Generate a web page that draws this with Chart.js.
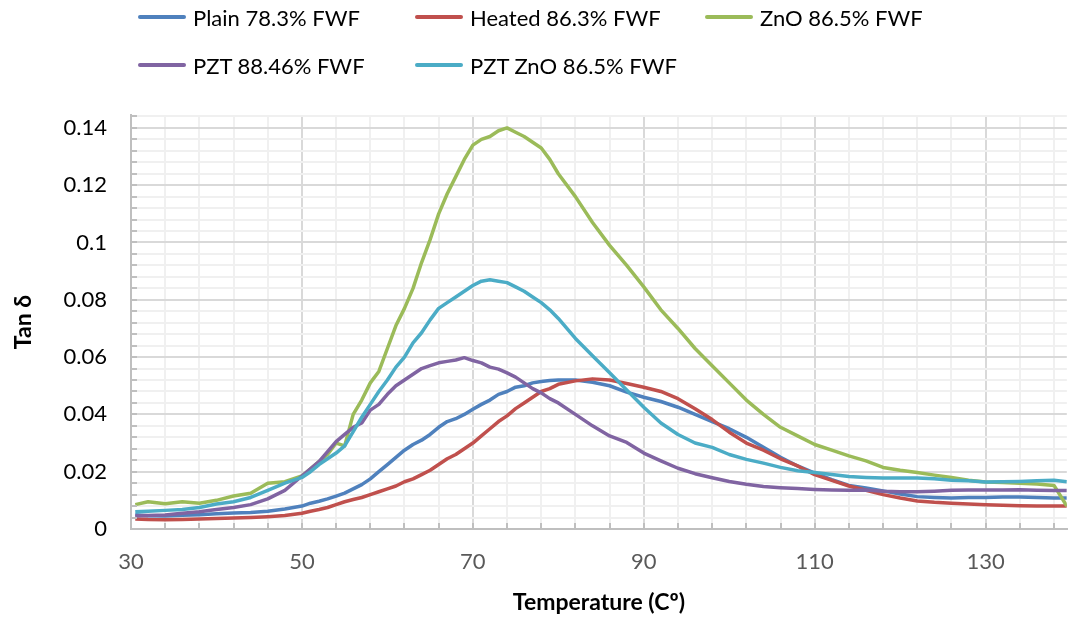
<!DOCTYPE html>
<html>
<head>
<meta charset="utf-8">
<script src="https://cdn.jsdelivr.net/npm/chart.js@4.4.1/dist/chart.umd.min.js"></script>
<style>
  html, body { margin: 0; padding: 0; background: #fff; }
  #wrap { position: relative; width: 1074px; height: 617px; }
  #legend {
    position: absolute; left: 138px; top: -7px;
    display: grid; grid-template-columns: 277px 290px auto; grid-auto-rows: 48px;
    font-family: Lato, sans-serif; font-size: 22px; color: #000;
  }
  #legend .item { display: flex; align-items: center; white-space: nowrap; }
  #legend .swatch { width: 48px; height: 4px; border-radius: 2px; margin-right: 7px; }
</style>
</head>
<body>
<div id="wrap">
  <canvas id="tanChart" width="1074" height="617"></canvas>
  <div id="legend"></div>
</div>
<script>
// temperature (C) of each reading
const temps = [
  30.5, 32, 34, 36, 38, 40, 42, 44, 46, 48,
  50, 51, 52, 53, 54, 55, 56, 57, 58, 59,
  60, 61, 62, 63, 64, 65, 66, 67, 68, 69,
  70, 71, 72, 73, 74, 75, 76, 77, 78, 79,
  80, 82, 84, 86, 88, 90, 92, 94, 96, 98,
  100, 102, 104, 106, 108, 110, 112, 114, 116, 118,
  120, 122, 124, 126, 128, 130, 132, 134, 136, 138,
  139.5
];

// tan delta per series
const plain = [
  0.0050, 0.0046, 0.0045, 0.0048, 0.0050, 0.0053, 0.0056, 0.0058, 0.0062, 0.0070,
  0.0080, 0.0090, 0.0097, 0.0105, 0.0115, 0.0125, 0.0140, 0.0155, 0.0175, 0.0200,
  0.0225, 0.0250, 0.0275, 0.0295, 0.0310, 0.0330, 0.0355, 0.0375, 0.0385, 0.0400,
  0.0418, 0.0435, 0.0450, 0.0470, 0.0480, 0.0495, 0.0500, 0.0510, 0.0515, 0.0518,
  0.0520, 0.0520, 0.0512, 0.0500, 0.0478, 0.0460, 0.0445, 0.0425, 0.0400, 0.0375,
  0.0350, 0.0320, 0.0285, 0.0250, 0.0220, 0.0195, 0.0172, 0.0152, 0.0143, 0.0133,
  0.0122, 0.0113, 0.0110, 0.0108, 0.0110, 0.0110, 0.0112, 0.0112, 0.0110, 0.0108,
  0.0108
];
const heated = [
  0.0035, 0.0033, 0.0032, 0.0033, 0.0035, 0.0037, 0.0038, 0.0040, 0.0043, 0.0047,
  0.0055, 0.0062, 0.0068, 0.0075, 0.0085, 0.0095, 0.0103, 0.0110, 0.0120, 0.0130,
  0.0140, 0.0150, 0.0165, 0.0175, 0.0190, 0.0205, 0.0225, 0.0245, 0.0260, 0.0280,
  0.0300, 0.0325, 0.0350, 0.0375, 0.0395, 0.0420, 0.0440, 0.0460, 0.0480, 0.0490,
  0.0505, 0.0517, 0.0524, 0.0520, 0.0508, 0.0495, 0.0480, 0.0455, 0.0420, 0.0382,
  0.0338, 0.0300, 0.0275, 0.0245, 0.0220, 0.0190, 0.0170, 0.0150, 0.0135, 0.0120,
  0.0108, 0.0098, 0.0093, 0.0090, 0.0087, 0.0085, 0.0083, 0.0081, 0.0080, 0.0080,
  0.0080
];
const zno = [
  0.0085, 0.0095, 0.0088, 0.0095, 0.0090, 0.0100, 0.0115, 0.0125, 0.0160, 0.0165,
  0.0185, 0.0210, 0.0235, 0.0260, 0.0300, 0.0290, 0.0400, 0.0450, 0.0510, 0.0550,
  0.0630, 0.0710, 0.0770, 0.0840, 0.0930, 0.1010, 0.1100, 0.1170, 0.1230, 0.1290,
  0.1340, 0.1360, 0.1370, 0.1390, 0.1400, 0.1385, 0.1370, 0.1350, 0.1330, 0.1290,
  0.1240, 0.1160, 0.1070, 0.0990, 0.0920, 0.0845, 0.0765, 0.0700, 0.0630, 0.0570,
  0.0510, 0.0450, 0.0400, 0.0355, 0.0325, 0.0295, 0.0275, 0.0255, 0.0238, 0.0215,
  0.0205, 0.0197, 0.0188, 0.0180, 0.0170, 0.0164, 0.0162, 0.0160, 0.0157, 0.0152,
  0.0080
];
const pzt = [
  0.0045, 0.0047, 0.0049, 0.0055, 0.0060, 0.0068, 0.0075, 0.0085, 0.0105, 0.0135,
  0.0185, 0.0210, 0.0235, 0.0270, 0.0305, 0.0330, 0.0355, 0.0370, 0.0415, 0.0435,
  0.0470, 0.0500, 0.0520, 0.0540, 0.0560, 0.0570, 0.0580, 0.0585, 0.0590, 0.0598,
  0.0588, 0.0580, 0.0565, 0.0558, 0.0545, 0.0530, 0.0510, 0.0490, 0.0475, 0.0455,
  0.0440, 0.0400, 0.0360, 0.0325, 0.0302, 0.0265, 0.0238, 0.0212, 0.0193, 0.0179,
  0.0166, 0.0156, 0.0148, 0.0144, 0.0141, 0.0138, 0.0136, 0.0135, 0.0136, 0.0132,
  0.0130, 0.0130, 0.0132, 0.0135, 0.0136, 0.0136, 0.0136, 0.0137, 0.0135, 0.0134,
  0.0134
];
const pztZno = [
  0.0060, 0.0062, 0.0065, 0.0068, 0.0075, 0.0087, 0.0095, 0.0110, 0.0135, 0.0160,
  0.0180, 0.0200, 0.0225, 0.0245, 0.0265, 0.0290, 0.0340, 0.0390, 0.0435, 0.0480,
  0.0520, 0.0565, 0.0600, 0.0650, 0.0685, 0.0730, 0.0770, 0.0790, 0.0810, 0.0830,
  0.0850, 0.0865, 0.0870, 0.0865, 0.0860, 0.0845, 0.0830, 0.0810, 0.0790, 0.0765,
  0.0735, 0.0665, 0.0605, 0.0545, 0.0485, 0.0425, 0.0370, 0.0330, 0.0300, 0.0285,
  0.0260, 0.0243, 0.0230, 0.0215, 0.0203, 0.0197, 0.0190, 0.0183, 0.0180, 0.0178,
  0.0178, 0.0178, 0.0175, 0.0170, 0.0168, 0.0164, 0.0165, 0.0166, 0.0168, 0.0170,
  0.0165
];

const seriesNames = ['Plain 78.3% FWF', 'Heated 86.3% FWF', 'ZnO 86.5% FWF', 'PZT 88.46% FWF', 'PZT ZnO 86.5% FWF'];
const seriesValues = [plain, heated, zno, pzt, pztZno];
const seriesColors = ['#4f81bd', '#c0504d', '#9bbb59', '#8064a2', '#4bacc6'];

const xTickLabels = [30, 50, 70, 90, 110, 130];
const yTickLabels = ['0', '0.02', '0.04', '0.06', '0.08', '0.1', '0.12', '0.14'];

// axis range and minor grid spacing
const X_MIN = 30, X_MAX = 139.5, X_MINOR = 4;
const Y_MIN = 0, Y_MAX = 0.1445, Y_MAJOR = 0.02, Y_MINOR = 0.004;

const FONT = 'Lato, sans-serif';
const MAJOR_GRID = '#d9d9d9';
const MINOR_GRID = '#f0f0f0';
const AXIS_LINE = '#bfbfbf';

function minorTicks(min, max, step) {
    const out = [];
    for (let v = min; v <= max + 1e-9; v += step) out.push({ value: Math.round(v * 10000) / 10000 });
    return out;
}
const isYMajor = v => Math.abs(v / Y_MAJOR - Math.round(v / Y_MAJOR)) < 1e-6;
const isXMajor = v => xTickLabels.includes(v);

// little inside tick marks like Excel's minor ticks
const minorTickMarks = {
    id: 'minorTickMarks',
    afterDatasetsDraw(chart) {
        const { ctx, chartArea, scales } = chart;
        ctx.save();
        ctx.strokeStyle = AXIS_LINE;
        ctx.lineWidth = 2;
        ctx.beginPath();
        scales.x.ticks.forEach(t => {
            const px = Math.round(scales.x.getPixelForValue(t.value));
            ctx.moveTo(px, chartArea.bottom);
            ctx.lineTo(px, chartArea.bottom - 6);
        });
        scales.y.ticks.forEach(t => {
            const py = Math.round(scales.y.getPixelForValue(t.value));
            ctx.moveTo(chartArea.left, py);
            ctx.lineTo(chartArea.left + 6, py);
        });
        ctx.stroke();
        ctx.restore();
    }
};

const datasets = seriesNames.map((name, i) => ({
    label: name,
    data: temps.map((t, j) => ({ x: t, y: seriesValues[i][j] })),
    borderColor: seriesColors[i],
    backgroundColor: seriesColors[i],
    borderWidth: 3.5,
    pointRadius: 0,
    tension: 0,
    borderJoinStyle: 'round',
    order: seriesNames.length - i   // later series on top, like Excel
}));

const chart = new Chart(document.getElementById('tanChart'), {
    type: 'line',
    data: { datasets },
    options: {
        responsive: false,
        animation: false,
        layout: { padding: { top: 115, left: 0, right: 0, bottom: 0 } },
        plugins: { legend: { display: false }, tooltip: { enabled: false } },
        scales: {
            x: {
                type: 'linear',
                min: X_MIN,
                max: X_MAX,
                afterBuildTicks: s => { s.ticks = minorTicks(X_MIN, 138, X_MINOR); },
                afterFit: s => { s.height = 88; },
                ticks: {
                    autoSkip: false,
                    maxRotation: 0,
                    padding: 20,
                    color: '#595959',
                    font: { family: FONT, size: 22 },
                    callback: v => isXMajor(v) ? String(v) : ''
                },
                grid: {
                    drawTicks: false,
                    lineWidth: 2,
                    color: c => isXMajor(c.tick.value) ? MAJOR_GRID : MINOR_GRID
                },
                border: { color: AXIS_LINE, width: 2 },
                title: {
                    display: true,
                    text: 'Temperature (Cº)',
                    color: '#000',
                    font: { family: FONT, size: 23, weight: 'bold' },
                    padding: { top: 0, bottom: 1 }
                }
            },
            y: {
                min: Y_MIN,
                max: Y_MAX,
                afterBuildTicks: s => { s.ticks = minorTicks(Y_MIN, 0.144, Y_MINOR); },
                afterFit: s => { s.width = 131; },
                ticks: {
                    autoSkip: false,
                    padding: 24,
                    color: '#000',
                    font: { family: FONT, size: 22 },
                    callback: v => isYMajor(v) ? yTickLabels[Math.round(v / Y_MAJOR)] : ''
                },
                grid: {
                    drawTicks: false,
                    lineWidth: 2,
                    color: c => isYMajor(c.tick.value) ? MAJOR_GRID : MINOR_GRID
                },
                border: { color: AXIS_LINE, width: 2 },
                title: {
                    display: true,
                    text: 'Tan δ',
                    color: '#000',
                    font: { family: FONT, size: 23, weight: 'bold' },
                    padding: { top: 10, bottom: 0 }
                }
            }
        }
    },
    plugins: [minorTickMarks]
});

// legend in Excel's column layout
const legend = document.getElementById('legend');
chart.data.datasets.forEach(ds => {
    const item = document.createElement('div');
    item.className = 'item';
    item.innerHTML = '<span class="swatch" style="background:' + ds.borderColor + '"></span>' + ds.label;
    legend.appendChild(item);
});
</script>
</body>
</html>
